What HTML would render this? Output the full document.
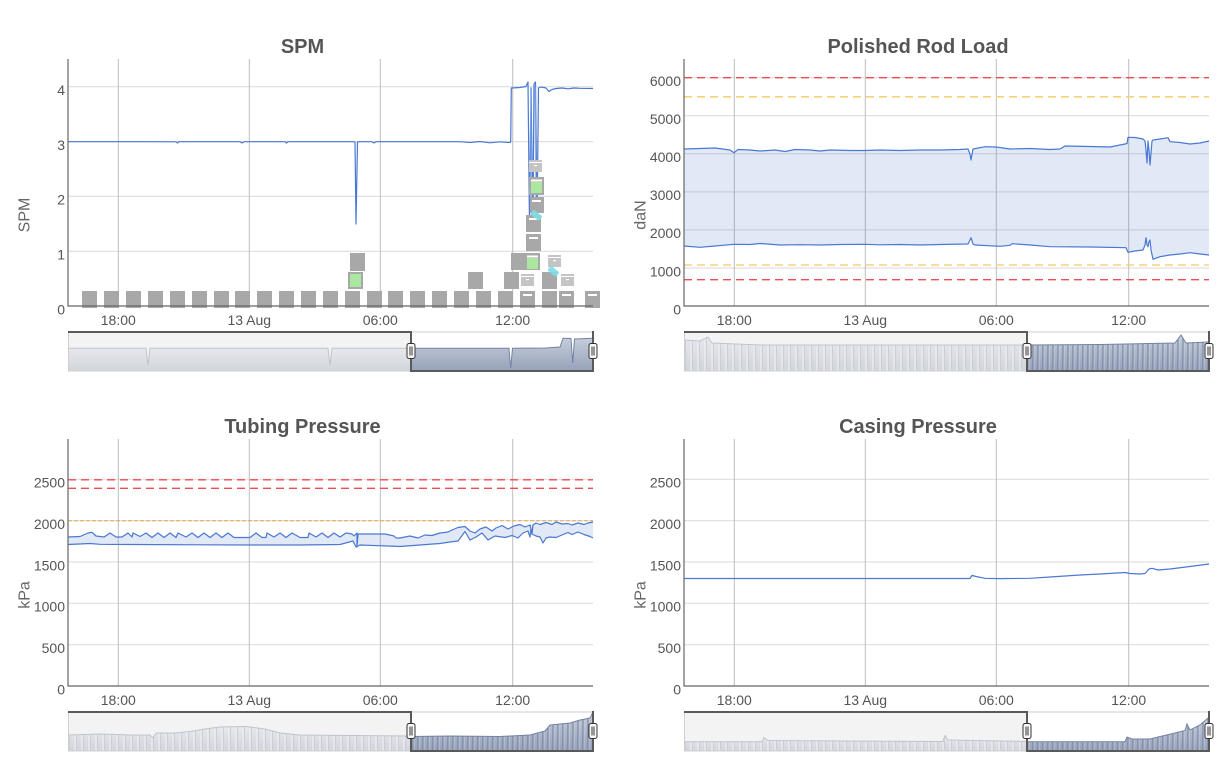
<!DOCTYPE html>
<html><head><meta charset="utf-8"><style>
html,body{margin:0;padding:0;background:#fff;}
svg{display:block;font-family:"Liberation Sans",Arial,sans-serif;}
.t{font-size:20px;font-weight:bold;fill:#555;text-anchor:middle;}
.yl{font-size:14px;fill:#555;text-anchor:end;}
.xl{font-size:14px;fill:#555;text-anchor:middle;}
.at{font-size:16px;fill:#666;text-anchor:middle;}
.hg{stroke:#d9d9d9;stroke-width:1;}
.vg{stroke:#bdbdbd;stroke-width:1;}
.ax{stroke:#666;stroke-width:1.2;fill:none;}
.ser{fill:none;stroke:#4a78d2;stroke-width:1.2;stroke-linejoin:round;}
.band{fill:rgba(69,114,196,0.16);stroke:none;}
.red{stroke:#ec4d55;stroke-width:1.4;stroke-dasharray:8,5;}
.yel{stroke:#f5d27c;stroke-width:1.6;stroke-dasharray:8,5;}
.org{stroke:#e2a94a;stroke-width:1;stroke-dasharray:4,2;}
.g{fill:#a8a8a8;}
.lg{fill:#c4c4c4;}
.wb{fill:#fff;}
.gr{fill:#ace7a2;}
.nl{fill:none;stroke:#bfc4cd;stroke-width:1;}
.ns{fill:none;stroke:#7483a3;stroke-width:1;}
.out{fill:none;stroke:#5a5a5a;stroke-width:2;}
.hd{fill:#f8f8f8;stroke:#333;stroke-width:1;}
.hl{stroke:#333;stroke-width:1;}
</style></head><body>
<svg width="1226" height="779" viewBox="0 0 1226 779" xmlns="http://www.w3.org/2000/svg">
<defs>
<linearGradient id="gu" x1="0" y1="0" x2="0" y2="1"><stop offset="0" stop-color="#e6e8ec"/><stop offset="1" stop-color="#d2d5dc"/></linearGradient>
<linearGradient id="gs" x1="0" y1="0" x2="0" y2="1"><stop offset="0" stop-color="#c6cddb"/><stop offset="1" stop-color="#96a1b9"/></linearGradient>
<pattern id="pu" width="7" height="40" patternUnits="userSpaceOnUse"><rect x="4.5" y="0" width="1.3" height="40" fill="#f1f2f4"/><rect x="5.8" y="0" width="0.9" height="40" fill="#c3c7cf"/></pattern>
<pattern id="ps" width="5" height="40" patternUnits="userSpaceOnUse"><rect x="2.5" y="0" width="1" height="40" fill="#6d7b9a"/><rect x="3.5" y="0" width="1" height="40" fill="#d0d6e2" opacity="0.7"/></pattern>
<clipPath id="c1u"><path d="M684,371 L684,340 L700,341 L708,337 L712,343 L760,345 L1027,345 L1027,371 Z"/></clipPath>
<clipPath id="c1s"><path d="M1027,371 L1027,345 L1100,344.5 L1175,343 L1181,335 L1186,343 L1208,342 L1209,371 Z"/></clipPath>
<clipPath id="c2u"><path d="M68,751 L68,735 L100,734 L130,735 L150,735 L153,738 L156,733 L175,733 L190,731.5 L205,729 L220,727 L245,726.5 L250,727 L265,729 L280,733 L300,735 L350,735.5 L411,736 L411,751 Z"/></clipPath>
<clipPath id="c2s"><path d="M411,751 L411,736.5 L450,736 L500,736.5 L530,735 L545,731 L550,725 L560,724 L570,723 L580,720 L590,718 L593,712 L593,751 Z"/></clipPath>
<clipPath id="c3u"><path d="M684,751 L684,741.7 L762,741.7 L764,737.5 L768,740.5 L943,741.5 L945,735.5 L948,740 L1027,741.5 L1027,751 Z"/></clipPath>
<clipPath id="c3s"><path d="M1027,751 L1027,741.7 L1125,741.7 L1127,737 L1132,739 L1150,739 L1160,736.5 L1175,733 L1185,730.5 L1187,724 L1190,730 L1200,725 L1208,718 L1209,751 Z"/></clipPath>
</defs>

<!-- ================= SPM ================= -->
<text class="t" x="302.5" y="53">SPM</text>
<g>
<line class="hg" x1="68" x2="593" y1="86.7" y2="86.7"/>
<line class="hg" x1="68" x2="593" y1="141.7" y2="141.7"/>
<line class="hg" x1="68" x2="593" y1="196.3" y2="196.3"/>
<line class="hg" x1="68" x2="593" y1="251.3" y2="251.3"/>
<line class="vg" x1="118.3" x2="118.3" y1="59" y2="306"/>
<line class="vg" x1="249.3" x2="249.3" y1="59" y2="306"/>
<line class="vg" x1="380.3" x2="380.3" y1="59" y2="306"/>
<line class="vg" x1="512.7" x2="512.7" y1="59" y2="306"/>
</g>
<text class="yl" x="65" y="95">4</text>
<text class="yl" x="65" y="150">3</text>
<text class="yl" x="65" y="204.6">2</text>
<text class="yl" x="65" y="259.6">1</text>
<text class="yl" x="65" y="314.5">0</text>
<text class="xl" x="118.3" y="325">18:00</text>
<text class="xl" x="249.3" y="325">13 Aug</text>
<text class="xl" x="380.3" y="325">06:00</text>
<text class="xl" x="512.7" y="325">12:00</text>
<text class="at" x="29.5" y="215" transform="rotate(-90 29.5 215)">SPM</text>

<path class="ser" d="M68,141.7 L150,141.7 L176,141.8 L177.5,143 L179,141.7 L240,141.7 L242,143 L244,141.7 L285,141.7 L286.5,143 L288,141.7 L353,141.7 L355,142 L356,224 L357.5,142 L360,141.7 L372,141.7 L374,143 L376,141.7 L460,141.7 L470,142.5 L480,141.5 L490,142.8 L500,141.8 L509,142.5 L510.7,142 L511.3,88 L520,87.5 L526,86.5 L528,82 L529.5,225 L531,88 L533,225 L534,84 L535.5,82 L537,225 L538.5,88 L541,87 L546,88 L549,91.5 L552,89.5 L556,88.5 L562,88 L568,88.8 L574,88 L580,88.3 L593,88.5"/>
<path d="M530.5,88 L531.8,222 M535,86 L536,222" fill="none" stroke="#8fb3ea" stroke-width="1"/>

<!-- markers -->
<g class="g">
<rect x="82" y="291" width="15" height="17"/><rect x="104" y="291" width="15" height="17"/>
<rect x="126" y="291" width="15" height="17"/><rect x="148" y="291" width="15" height="17"/>
<rect x="170" y="291" width="15" height="17"/><rect x="192" y="291" width="15" height="17"/>
<rect x="214" y="291" width="15" height="17"/><rect x="235" y="291" width="15" height="17"/>
<rect x="257" y="291" width="15" height="17"/><rect x="279" y="291" width="15" height="17"/>
<rect x="301" y="291" width="15" height="17"/><rect x="323" y="291" width="15" height="17"/>
<rect x="345" y="291" width="15" height="17"/><rect x="367" y="291" width="15" height="17"/>
<rect x="388" y="291" width="15" height="17"/><rect x="410" y="291" width="15" height="17"/>
<rect x="432" y="291" width="15" height="17"/><rect x="454" y="291" width="15" height="17"/>
<rect x="476" y="291" width="15" height="17"/><rect x="498" y="291" width="15" height="17"/>
<rect x="520" y="291" width="15" height="17"/><rect x="542" y="291" width="15" height="17"/>
<rect x="559" y="291" width="15" height="17"/><rect x="585" y="291" width="15" height="17"/>
<rect x="468" y="272" width="15" height="17"/><rect x="504" y="272" width="15" height="17"/>
<rect x="542" y="272" width="15" height="17"/>
<rect x="511" y="253" width="14" height="17"/>
<rect x="525" y="253" width="15" height="17"/>
<rect x="526" y="234" width="15" height="17"/>
<rect x="526" y="215" width="15" height="17"/>
<rect x="530" y="197" width="14" height="16"/>
<rect x="529" y="177" width="15" height="18"/>
<rect x="350" y="253" width="15" height="18"/>
<rect x="348" y="272" width="15" height="17"/>
</g>
<g class="lg">
<rect x="521" y="274" width="13" height="12"/>
<rect x="561" y="274" width="13" height="12"/>
<rect x="548" y="255" width="13" height="12"/>
<rect x="529" y="160" width="13" height="12"/>
</g>
<g class="wb">
<rect x="523" y="294" width="9" height="2"/><rect x="562" y="294" width="9" height="2"/><rect x="588" y="294" width="9" height="2"/>
<rect x="521" y="276" width="13" height="1"/><rect x="526" y="279" width="3" height="1.2"/>
<rect x="561" y="276" width="13" height="1"/><rect x="566" y="279" width="3" height="1.2"/>
<rect x="548" y="257" width="13" height="1"/><rect x="553" y="260" width="3" height="1.2"/>
<rect x="529" y="162" width="13" height="1"/><rect x="534" y="165" width="3" height="1.2"/>
<rect x="527" y="255.5" width="11" height="2"/>
<rect x="529" y="237" width="9" height="2"/>
<rect x="529" y="218" width="9" height="2"/>
<rect x="532" y="200" width="9" height="2"/>
<rect x="531" y="179.5" width="11" height="2"/>
</g>
<g class="gr">
<rect x="350" y="274" width="11" height="13"/>
<rect x="527" y="258" width="11" height="11"/>
<rect x="531" y="182" width="11" height="11"/>
</g>
<g fill="#7fdde6" opacity="0.9">
<rect x="548" y="268" width="11" height="6" rx="1.5" transform="rotate(40 553 271)"/>
<rect x="531" y="212" width="11" height="6" rx="1.5" transform="rotate(40 536 215)"/>
</g>
<path class="ax" d="M68,59 L68,306 L593,306"/>

<!-- SPM navigator -->
<rect x="68" y="332" width="343" height="39" fill="#f3f3f3"/>
<path d="M68,371 L68,348.3 L146,348.3 L148,365 L150,348.3 L328,348.3 L330,365 L332,348.3 L411,348.3 L411,371 Z" fill="url(#gu)"/>
<path class="nl" d="M68,348.3 L146,348.3 L148,365 L150,348.3 L328,348.3 L330,365 L332,348.3 L411,348.3"/>
<path d="M411,371 L411,348.3 L509,348.3 L510.7,368 L512.5,348.3 L545,348 L560,347 L563,338.3 L571,338.5 L572.7,363 L574.5,339 L593,338.3 L593,371 Z" fill="url(#gs)"/>
<path class="ns" d="M411,348.3 L509,348.3 L510.7,368 L512.5,348.3 L545,348 L560,347 L563,338.3 L571,338.5 L572.7,363 L574.5,339 L593,338.3"/>
<rect x="68.5" y="332" width="524" height="39" fill="none" stroke="#cfcfcf" stroke-width="1"/>
<path class="out" d="M68,332 L411,332 L411,371 L593,371 L593,331"/>
<rect class="hd" x="407" y="343.5" width="8" height="15" rx="2"/><path class="hl" d="M410,346.5 V355.5 M412,346.5 V355.5"/>
<rect class="hd" x="589" y="343.5" width="8" height="15" rx="2"/><path class="hl" d="M592,346.5 V355.5 M594,346.5 V355.5"/>

<!-- ================= Polished Rod Load ================= -->
<text class="t" x="918" y="53">Polished Rod Load</text>
<g>
<line class="hg" x1="684" x2="1209" y1="115.75" y2="115.75"/>
<line class="hg" x1="684" x2="1209" y1="153.8" y2="153.8"/>
<line class="hg" x1="684" x2="1209" y1="191.85" y2="191.85"/>
<line class="hg" x1="684" x2="1209" y1="229.9" y2="229.9"/>
<line class="hg" x1="684" x2="1209" y1="267.95" y2="267.95"/>
<line class="hg" x1="684" x2="1209" y1="77.7" y2="77.7"/>
<line class="vg" x1="734.3" x2="734.3" y1="59" y2="306"/>
<line class="vg" x1="865.3" x2="865.3" y1="59" y2="306"/>
<line class="vg" x1="996.3" x2="996.3" y1="59" y2="306"/>
<line class="vg" x1="1128.7" x2="1128.7" y1="59" y2="306"/>
</g>
<line class="red" x1="684" x2="1209" y1="77.7" y2="77.7"/>
<line class="yel" x1="684" x2="1209" y1="96.8" y2="96.8"/>
<line class="yel" x1="684" x2="1209" y1="265" y2="265"/>
<line class="red" x1="684" x2="1209" y1="279.7" y2="279.7"/>
<text class="yl" x="681" y="86">6000</text>
<text class="yl" x="681" y="124">5000</text>
<text class="yl" x="681" y="162.1">4000</text>
<text class="yl" x="681" y="200.2">3000</text>
<text class="yl" x="681" y="238.2">2000</text>
<text class="yl" x="681" y="276.3">1000</text>
<text class="yl" x="681" y="314.5">0</text>
<text class="xl" x="734.3" y="325">18:00</text>
<text class="xl" x="865.3" y="325">13 Aug</text>
<text class="xl" x="996.3" y="325">06:00</text>
<text class="xl" x="1128.7" y="325">12:00</text>
<text class="at" x="645.5" y="215" transform="rotate(-90 645.5 215)">daN</text>

<path class="band" d="M684,149 L700,148.5 L715,148 L730,150 L734,152.7 L738,149.5 L750,150 L760,151 L775,150 L785,151.5 L795,149.5 L810,150 L820,151 L830,150 L850,150.5 L865,150.5 L880,150 L900,150.5 L920,150 L940,150 L960,149.5 L968,149 L970,154 L971,160 L973,149 L985,146.7 L996,147 L1010,149 L1030,148.5 L1050,149.5 L1060,149 L1065,146 L1090,146.5 L1110,147 L1125,144 L1127,143.5 L1128,137.3 L1135,137.5 L1143,139 L1145,141 L1146,150 L1147,163 L1148,141 L1149,150 L1150,165 L1152,141 L1153,140 L1160,139 L1168,137.7 L1170,141.7 L1180,142.5 L1190,144 L1200,143 L1209,141 L1209,255 L1200,254 L1190,252.7 L1180,254 L1170,255 L1160,256.7 L1153,259.3 L1151,250 L1150,240 L1149,242 L1148,246.7 L1147,245 L1146,237.7 L1145,245 L1143,250 L1135,251 L1128,252.3 L1126,247.7 L1090,247 L1050,246.7 L1030,245 L1012,243.7 L1010,245.3 L1000,246.3 L975,245 L973,244 L971,237.7 L970,240 L968,244 L940,244.5 L920,245 L900,244.5 L880,244.8 L865,244.3 L840,244.5 L820,245 L800,244.7 L780,245 L760,243.5 L750,244.5 L734,244.3 L715,246 L700,247.3 L684,246 Z"/>
<path class="ser" d="M684,149 L700,148.5 L715,148 L730,150 L734,152.7 L738,149.5 L750,150 L760,151 L775,150 L785,151.5 L795,149.5 L810,150 L820,151 L830,150 L850,150.5 L865,150.5 L880,150 L900,150.5 L920,150 L940,150 L960,149.5 L968,149 L970,154 L971,160 L973,149 L985,146.7 L996,147 L1010,149 L1030,148.5 L1050,149.5 L1060,149 L1065,146 L1090,146.5 L1110,147 L1125,144 L1127,143.5 L1128,137.3 L1135,137.5 L1143,139 L1145,141 L1146,150 L1147,163 L1148,141 L1149,150 L1150,165 L1152,141 L1153,140 L1160,139 L1168,137.7 L1170,141.7 L1180,142.5 L1190,144 L1200,143 L1209,141"/>
<path class="ser" d="M684,246 L700,247.3 L715,246 L734,244.3 L750,244.5 L760,243.5 L780,245 L800,244.7 L820,245 L840,244.5 L865,244.3 L880,244.8 L900,244.5 L920,245 L940,244.5 L968,244 L970,240 L971,237.7 L973,244 L975,245 L1000,246.3 L1010,245.3 L1012,243.7 L1030,245 L1050,246.7 L1090,247 L1126,247.7 L1128,252.3 L1135,251 L1143,250 L1145,245 L1146,237.7 L1147,245 L1148,246.7 L1149,242 L1150,240 L1151,250 L1153,259.3 L1160,256.7 L1170,255 L1180,254 L1190,252.7 L1200,254 L1209,255"/>
<path class="ax" d="M684,59 L684,306 L1209,306"/>

<!-- PRL navigator -->
<rect x="684" y="332" width="343" height="39" fill="#f3f3f3"/>
<path d="M684,371 L684,340 L700,341 L708,337 L712,343 L760,345 L1027,345 L1027,371 Z" fill="url(#gu)"/>
<rect x="684" y="332" width="343" height="39" fill="url(#pu)" clip-path="url(#c1u)"/>
<path class="nl" d="M684,340 L700,341 L708,337 L712,343 L760,345 L1027,345"/>
<path d="M1027,371 L1027,345 L1100,344.5 L1175,343 L1181,335 L1186,343 L1208,342 L1209,371 Z" fill="url(#gs)"/>
<rect x="1027" y="332" width="182" height="39" fill="url(#ps)" clip-path="url(#c1s)"/>
<path class="ns" d="M1027,345 L1100,344.5 L1175,343 L1181,335 L1186,343 L1208,342"/>
<rect x="684.5" y="332" width="524" height="39" fill="none" stroke="#cfcfcf" stroke-width="1"/>
<path class="out" d="M684,332 L1027,332 L1027,371 L1209,371 L1209,331"/>
<rect class="hd" x="1023" y="343.5" width="8" height="15" rx="2"/><path class="hl" d="M1026,346.5 V355.5 M1028,346.5 V355.5"/>
<rect class="hd" x="1205" y="343.5" width="8" height="15" rx="2"/><path class="hl" d="M1208,346.5 V355.5 M1210,346.5 V355.5"/>

<!-- ================= Tubing Pressure ================= -->
<text class="t" x="302.5" y="433">Tubing Pressure</text>
<g>
<line class="hg" x1="68" x2="593" y1="479.3" y2="479.3"/>
<line class="hg" x1="68" x2="593" y1="520.7" y2="520.7"/>
<line class="hg" x1="68" x2="593" y1="562" y2="562"/>
<line class="hg" x1="68" x2="593" y1="603.3" y2="603.3"/>
<line class="hg" x1="68" x2="593" y1="644.7" y2="644.7"/>
<line class="vg" x1="118.3" x2="118.3" y1="439" y2="686"/>
<line class="vg" x1="249.3" x2="249.3" y1="439" y2="686"/>
<line class="vg" x1="380.3" x2="380.3" y1="439" y2="686"/>
<line class="vg" x1="512.7" x2="512.7" y1="439" y2="686"/>
</g>
<line class="red" x1="68" x2="593" y1="479.8" y2="479.8"/>
<line class="red" x1="68" x2="593" y1="488.3" y2="488.3"/>
<line class="org" x1="68" x2="593" y1="520.7" y2="520.7"/>
<text class="yl" x="65" y="487.6">2500</text>
<text class="yl" x="65" y="529">2000</text>
<text class="yl" x="65" y="570.3">1500</text>
<text class="yl" x="65" y="611.6">1000</text>
<text class="yl" x="65" y="653">500</text>
<text class="yl" x="65" y="694.5">0</text>
<text class="xl" x="118.3" y="705">18:00</text>
<text class="xl" x="249.3" y="705">13 Aug</text>
<text class="xl" x="380.3" y="705">06:00</text>
<text class="xl" x="512.7" y="705">12:00</text>
<text class="at" x="29.5" y="595" transform="rotate(-90 29.5 595)">kPa</text>

<path class="band" d="M68,537 L80,536.5 L88,533 L92,532.3 L96,536 L104,537 L110,533 L116,537 L122,537 L128,533 L132,537 L133,533 L140,536.5 L146,533 L152,537.5 L158,533 L164,537.5 L170,533 L176,537.5 L178,533 L186,537 L192,533 L198,537.5 L204,533 L210,537.5 L216,533 L222,537.5 L228,533 L234,537.5 L250,537.5 L256,533 L262,537.5 L266,537.5 L267,533 L274,537 L280,533 L286,537.5 L292,533 L300,537.5 L308,537.5 L309,533 L316,537 L322,533 L328,537.5 L334,533 L340,537 L346,533 L352,534 L354,536 L357,533 L362,534 L375,534 L385,534 L394,536 L396,538 L400,538 L410,536 L418,538 L425,535 L432,535.5 L440,533 L448,532 L452,530 L458,527.5 L465,526.5 L470,531 L475,533 L480,529 L486,527 L492,531 L496,528 L502,525.5 L508,529 L514,526 L520,524.5 L525,527 L530,525 L536,523 L540,524.5 L546,522.5 L552,524.5 L556,522 L562,524 L568,523.5 L572,525 L578,523 L584,524.5 L588,523 L593,522 L593,538 L590,536.5 L584,534.5 L578,532 L572,534.5 L568,532.5 L562,535 L556,537.5 L550,537 L546,538 L543,543 L540,537 L536,536 L532,534 L528,531 L523,533 L518,538 L512,535.5 L505,537.5 L495,536 L488,540 L482,533 L476,537 L470,540 L465,531.5 L461,537 L458,541 L450,542 L440,543.5 L420,545 L400,546.5 L360,545 L356,547 L353,541 L340,544.5 L300,545 L250,545 L200,544.8 L130,544.5 L100,544.3 L90,543.5 L68,544.5 Z"/>
<path class="ser" d="M68,537 L80,536.5 L88,533 L92,532.3 L96,536 L104,537 L110,533 L116,537 L122,537 L128,533 L132,537 L133,533 L140,536.5 L146,533 L152,537.5 L158,533 L164,537.5 L170,533 L176,537.5 L178,533 L186,537 L192,533 L198,537.5 L204,533 L210,537.5 L216,533 L222,537.5 L228,533 L234,537.5 L250,537.5 L256,533 L262,537.5 L266,537.5 L267,533 L274,537 L280,533 L286,537.5 L292,533 L300,537.5 L308,537.5 L309,533 L316,537 L322,533 L328,537.5 L334,533 L340,537 L346,533 L352,534 L354,536 L357,533 L357,547 L358,534 L362,534 L375,534 L385,534 L394,536 L396,538 L400,538 L410,536 L418,538 L425,535 L432,535.5 L440,533 L448,532 L452,530 L458,527.5 L465,526.5 L470,531 L475,533 L480,529 L486,527 L492,531 L496,528 L502,525.5 L508,529 L514,526 L520,524.5 L525,527 L530,525 L532,534 L533,525 L536,523 L540,524.5 L546,522.5 L552,524.5 L556,522 L562,524 L568,523.5 L572,525 L578,523 L584,524.5 L588,523 L593,522"/>
<path class="ser" d="M68,544.5 L90,543.5 L100,544.3 L130,544.5 L200,544.8 L250,545 L300,545 L340,544.5 L353,541 L356,547 L360,545 L400,546.5 L420,545 L440,543.5 L450,542 L458,541 L461,537 L465,531.5 L470,540 L476,537 L482,533 L488,540 L495,536 L505,537.5 L512,535.5 L518,538 L523,533 L528,531 L530,537 L531,529 L532,534 L536,536 L540,537 L543,543 L546,538 L550,537 L556,537.5 L562,535 L568,532.5 L572,534.5 L578,532 L584,534.5 L590,536.5 L593,538"/>
<path class="ax" d="M68,439 L68,686 L593,686"/>

<!-- TP navigator -->
<rect x="68" y="712" width="343" height="39" fill="#f3f3f3"/>
<path d="M68,751 L68,735 L100,734 L130,735 L150,735 L153,738 L156,733 L175,733 L190,731.5 L205,729 L220,727 L245,726.5 L250,727 L265,729 L280,733 L300,735 L350,735.5 L411,736 L411,751 Z" fill="url(#gu)"/>
<rect x="68" y="712" width="343" height="39" fill="url(#pu)" clip-path="url(#c2u)"/>
<path class="nl" d="M68,735 L100,734 L130,735 L150,735 L153,738 L156,733 L175,733 L190,731.5 L205,729 L220,727 L245,726.5 L250,727 L265,729 L280,733 L300,735 L350,735.5 L411,736"/>
<path d="M411,751 L411,736.5 L450,736 L500,736.5 L530,735 L545,731 L550,725 L560,724 L570,723 L580,720 L590,718 L593,712 L593,751 Z" fill="url(#gs)"/>
<rect x="411" y="712" width="182" height="39" fill="url(#ps)" clip-path="url(#c2s)"/>
<path class="ns" d="M411,736.5 L450,736 L500,736.5 L530,735 L545,731 L550,725 L560,724 L570,723 L580,720 L590,718 L593,712"/>
<rect x="68.5" y="712" width="524" height="39" fill="none" stroke="#cfcfcf" stroke-width="1"/>
<path class="out" d="M68,712 L411,712 L411,751 L593,751 L593,711"/>
<rect class="hd" x="407" y="723.5" width="8" height="15" rx="2"/><path class="hl" d="M410,726.5 V735.5 M412,726.5 V735.5"/>
<rect class="hd" x="589" y="723.5" width="8" height="15" rx="2"/><path class="hl" d="M592,726.5 V735.5 M594,726.5 V735.5"/>

<!-- ================= Casing Pressure ================= -->
<text class="t" x="918" y="433">Casing Pressure</text>
<g>
<line class="hg" x1="684" x2="1209" y1="479.3" y2="479.3"/>
<line class="hg" x1="684" x2="1209" y1="520.7" y2="520.7"/>
<line class="hg" x1="684" x2="1209" y1="562" y2="562"/>
<line class="hg" x1="684" x2="1209" y1="603.3" y2="603.3"/>
<line class="hg" x1="684" x2="1209" y1="644.7" y2="644.7"/>
<line class="vg" x1="734.3" x2="734.3" y1="439" y2="686"/>
<line class="vg" x1="865.3" x2="865.3" y1="439" y2="686"/>
<line class="vg" x1="996.3" x2="996.3" y1="439" y2="686"/>
<line class="vg" x1="1128.7" x2="1128.7" y1="439" y2="686"/>
</g>
<text class="yl" x="681" y="487.6">2500</text>
<text class="yl" x="681" y="529">2000</text>
<text class="yl" x="681" y="570.3">1500</text>
<text class="yl" x="681" y="611.6">1000</text>
<text class="yl" x="681" y="653">500</text>
<text class="yl" x="681" y="694.5">0</text>
<text class="xl" x="734.3" y="705">18:00</text>
<text class="xl" x="865.3" y="705">13 Aug</text>
<text class="xl" x="996.3" y="705">06:00</text>
<text class="xl" x="1128.7" y="705">12:00</text>
<text class="at" x="645.5" y="595" transform="rotate(-90 645.5 595)">kPa</text>
<path class="ser" stroke-width="1.5" d="M684,578.5 L970,578.5 L972,575.3 L976,576.5 L985,578.3 L1000,578.6 L1030,578.3 L1050,577 L1080,575 L1100,574 L1125,572.5 L1130,573.5 L1140,574 L1145,573.5 L1149,569 L1152,568.3 L1158,570 L1170,569 L1190,566.5 L1209,564"/>
<path class="ax" d="M684,439 L684,686 L1209,686"/>

<!-- CP navigator -->
<rect x="684" y="712" width="343" height="39" fill="#f3f3f3"/>
<path d="M684,751 L684,741.7 L762,741.7 L764,737.5 L768,740.5 L943,741.5 L945,735.5 L948,740 L1027,741.5 L1027,751 Z" fill="url(#gu)"/>
<rect x="684" y="712" width="343" height="39" fill="url(#pu)" clip-path="url(#c3u)"/>
<path class="nl" d="M684,741.7 L762,741.7 L764,737.5 L768,740.5 L943,741.5 L945,735.5 L948,740 L1027,741.5"/>
<path d="M1027,751 L1027,741.7 L1125,741.7 L1127,737 L1132,739 L1150,739 L1160,736.5 L1175,733 L1185,730.5 L1187,724 L1190,730 L1200,725 L1208,718 L1209,751 Z" fill="url(#gs)"/>
<rect x="1027" y="712" width="182" height="39" fill="url(#ps)" clip-path="url(#c3s)"/>
<path class="ns" d="M1027,741.7 L1125,741.7 L1127,737 L1132,739 L1150,739 L1160,736.5 L1175,733 L1185,730.5 L1187,724 L1190,730 L1200,725 L1208,718"/>
<rect x="684.5" y="712" width="524" height="39" fill="none" stroke="#cfcfcf" stroke-width="1"/>
<path class="out" d="M684,712 L1027,712 L1027,751 L1209,751 L1209,711"/>
<rect class="hd" x="1023" y="723.5" width="8" height="15" rx="2"/><path class="hl" d="M1026,726.5 V735.5 M1028,726.5 V735.5"/>
<rect class="hd" x="1205" y="723.5" width="8" height="15" rx="2"/><path class="hl" d="M1208,726.5 V735.5 M1210,726.5 V735.5"/>
</svg>
</body></html>
